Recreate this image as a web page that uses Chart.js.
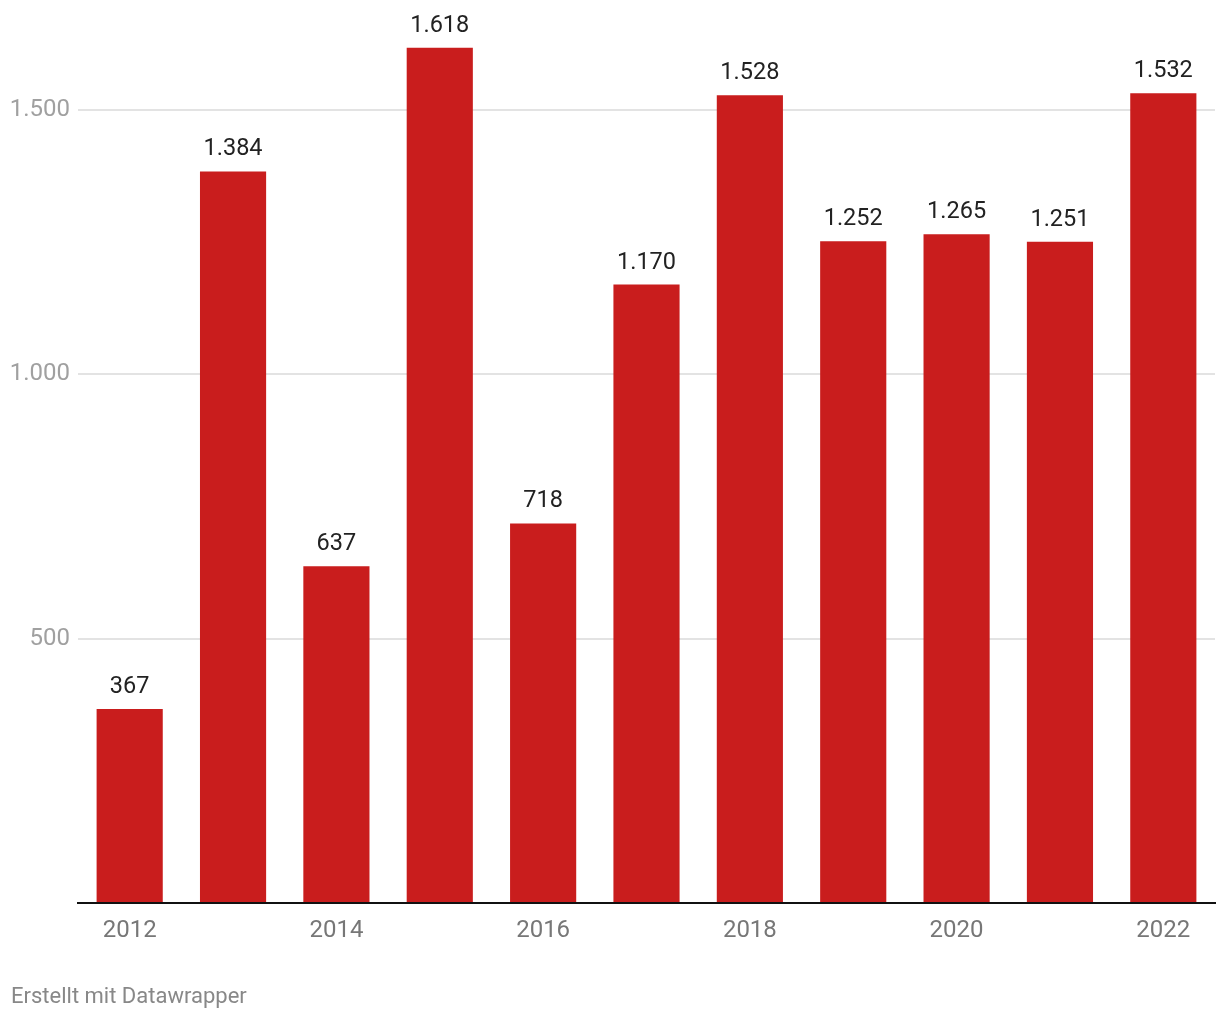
<!DOCTYPE html>
<html><head><meta charset="utf-8">
<script src="https://cdn.jsdelivr.net/npm/chart.js@4"></script>
<style>
html,body{margin:0;padding:0;background:#fff;}
#wrap{position:relative;width:1220px;height:1020px;}
canvas{position:absolute;left:0;top:0;}
#foot{position:absolute;left:11px;top:983px;font-family:Roboto,sans-serif;font-size:22px;color:#888;}
</style></head>
<body>
<div id="wrap"><canvas id="c" width="1220" height="1020"></canvas><div id="foot">Erstellt mit Datawrapper</div></div>
<script>
const years = ['2012','2013','2014','2015','2016','2017','2018','2019','2020','2021','2022'];
const values = [367,1384,637,1618,718,1170,1528,1252,1265,1251,1532];
const yTicks = [0,500,1000,1500];

const fmt = v => v.toLocaleString('de-DE');

const labelPlugin = {
  id:'barLabels',
  afterDatasetsDraw(chart){
    const ctx = chart.ctx;
    const meta = chart.getDatasetMeta(0);
    ctx.save();
    ctx.font = '23.5px Roboto';
    ctx.fillStyle = '#222';
    ctx.textAlign = 'center';
    ctx.textBaseline = 'alphabetic';
    meta.data.forEach((bar,i)=>{
      ctx.fillText(fmt(values[i]), bar.x, bar.y - 16);
    });
    ctx.restore();
  }
};

new Chart(document.getElementById('c'), {
  type:'bar',
  data:{labels:years, datasets:[{data:values, backgroundColor:'#c91d1d', barPercentage:0.64, categoryPercentage:1}]},
  options:{
    responsive:false, animation:false,
    layout:{padding:{top:3,right:5,left:0,bottom:0}},
    plugins:{legend:{display:false}, tooltip:{enabled:false}},
    scales:{
      x:{
        grid:{display:false, drawTicks:false},
        border:{display:true,color:'#111',width:2},
        ticks:{autoSkip:false, maxRotation:0, padding:14, color:'#777', font:{family:'Roboto',size:24},
          callback:(v,i)=> i%2===0 ? years[i] : ''},
        afterFit(s){ s.height = 117; }
      },
      y:{
        min:0, max:1666,
        afterBuildTicks(s){ s.ticks = yTicks.map(v=>({value:v})); },
        grid:{color:(c)=> c.tick && c.tick.value===0 ? 'rgba(0,0,0,0)' : '#e3e3e3', lineWidth:2, drawTicks:false},
        border:{display:false},
        ticks:{padding:8, color:'#a0a0a0', font:{family:'Roboto',size:24},
          callback:(v)=> v===0 ? '' : fmt(v)},
        afterFit(s){ s.width = 78; }
      }
    }
  },
  plugins:[labelPlugin]
});
</script>
</body></html>
